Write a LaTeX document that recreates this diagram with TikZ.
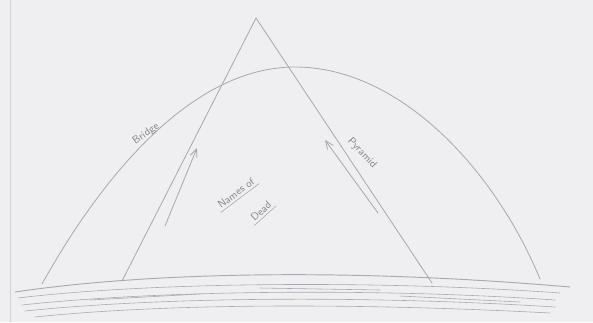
\documentclass[tikz,border=0pt]{standalone}
\usepackage{xcolor}
\usepackage{tikz}
\usetikzlibrary{arrows.meta}

\definecolor{paper}{RGB}{239,239,242}
\definecolor{pencil}{RGB}{168,168,176}

\begin{document}
\begin{tikzpicture}[
    x=0.03cm, y=-0.03cm,
    every node/.style={font=\sffamily\small, text=pencil!80!black, inner sep=1pt},
    stroke/.style={draw=pencil, line width=0.7pt, line cap=round},
    ground/.style={draw=pencil, line width=0.5pt, line cap=round},
    pointer/.style={stroke, -{Straight Barb[length=7pt, width=6pt]}}
]
\useasboundingbox (0,0) rectangle (593,322);
\fill[paper] (0,0) rectangle (593,322);
\draw[pencil!40!paper, line width=0.8pt] (10,0) -- (10,322);

\coordinate (top) at (256,18);
\coordinate (baseL) at (122,281);
\coordinate (baseR) at (432,283);
\coordinate (archL) at (42,284);
\coordinate (archR) at (540,279);
\coordinate (peak) at (295,67);

% pyramid
\draw[stroke] (baseL) -- (top) -- (baseR);
% bridge
\draw[stroke] (archL) .. controls (100,180) and (190,67) .. (peak)
    .. controls (400,67) and (495,170) .. (archR);

% ground
\draw[ground, line width=0.8pt] (15,292) .. controls (150,272) and (350,268) .. (570,287);
\draw[ground] (18,298) .. controls (150,282) and (380,280) .. (560,293);
\draw[ground] (22,305) .. controls (160,290) and (380,288) .. (555,300);
\draw[ground] (25,311) .. controls (170,296) and (380,296) .. (555,307);
\draw[ground] (35,317) .. controls (180,302) and (380,304) .. (550,313);
\draw[ground] (90,300) -- (200,294);
\draw[ground] (260,288) -- (380,290);
\draw[ground] (400,296) -- (520,302);

% labels
\node[rotate=35] (bridge) at (146,134) {Bridge};
\node[rotate=-47] (pyramid) at (362,153) {Pyramid};
\node[rotate=37, inner sep=2pt] (names) at (236,193) {Names of};
\node[rotate=42, inner sep=2pt] (dead) at (261,211) {Dead};
\draw[stroke, line width=0.5pt] (names.south west) -- (names.south east);
\draw[stroke, line width=0.5pt] (dead.south west) -- (dead.south east);

% arrows
\coordinate (arrL1) at (165,226);
\coordinate (arrL2) at (197,148);
\coordinate (arrR1) at (378,213);
\coordinate (arrR2) at (325,140);
\draw[pointer] (arrL1) -- (arrL2);
\draw[pointer] (arrR1) -- (arrR2);
\end{tikzpicture}
\end{document}
